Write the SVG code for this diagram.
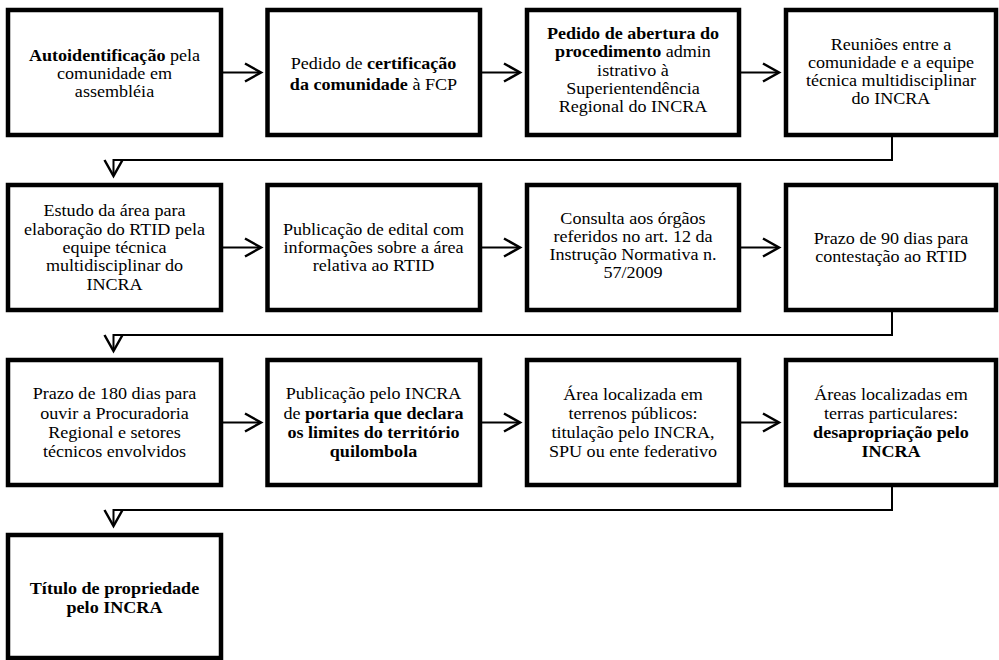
<svg xmlns="http://www.w3.org/2000/svg" width="999" height="660" viewBox="0 0 999 660">
<style>
.box{fill:#fff;stroke:#000;stroke-width:4.5}
.t{font-family:'Liberation Serif','Times New Roman',Times,serif;font-size:16.3px;text-anchor:middle;fill:#000}
.b{font-weight:bold}
.conn{fill:none;stroke:#000;stroke-width:2}
</style>
<defs>
<marker id="arr" viewBox="-20 -12 24 24" refX="0" refY="0" markerWidth="24" markerHeight="24" markerUnits="userSpaceOnUse" orient="auto">
<path d="M-16,-9 L0,0 L-16,9" fill="none" stroke="#000" stroke-width="2.5"/>
</marker>
</defs>
<rect width="999" height="660" fill="#fff"/>
<g id="connectors">
<line class="conn" x1="221" y1="72.5" x2="261" y2="72.5" marker-end="url(#arr)"/>
<line class="conn" x1="480" y1="72.5" x2="520" y2="72.5" marker-end="url(#arr)"/>
<line class="conn" x1="739" y1="72.5" x2="779" y2="72.5" marker-end="url(#arr)"/>
<polyline class="conn" points="892,135 892,160 113.5,160 113.5,176" marker-end="url(#arr)"/>
<line class="conn" x1="221" y1="247.5" x2="261" y2="247.5" marker-end="url(#arr)"/>
<line class="conn" x1="480" y1="247.5" x2="520" y2="247.5" marker-end="url(#arr)"/>
<line class="conn" x1="739" y1="247.5" x2="779" y2="247.5" marker-end="url(#arr)"/>
<polyline class="conn" points="892,310 892,335 113.5,335 113.5,351" marker-end="url(#arr)"/>
<line class="conn" x1="221" y1="422.5" x2="261" y2="422.5" marker-end="url(#arr)"/>
<line class="conn" x1="480" y1="422.5" x2="520" y2="422.5" marker-end="url(#arr)"/>
<line class="conn" x1="739" y1="422.5" x2="779" y2="422.5" marker-end="url(#arr)"/>
<polyline class="conn" points="892,485 892,510 113.5,510 113.5,526" marker-end="url(#arr)"/>
</g>
<g id="n1">
<rect class="box" x="8" y="10" width="213" height="125"/>
<g transform="translate(114.5 0) scale(1.11 1)">
<text class="t" x="0" y="61"><tspan class="b">Autoidentificação</tspan> pela</text>
<text class="t" x="0" y="79">comunidade em</text>
<text class="t" x="0" y="97">assembléia</text>
</g>
</g>
<g id="n2">
<rect class="box" x="267.5" y="10" width="212.5" height="125"/>
<g transform="translate(373.5 0) scale(1.11 1)">
<text class="t" x="0" y="69.5">Pedido de <tspan class="b">certificação</tspan></text>
<text class="t" x="0" y="90"><tspan class="b">da comunidade</tspan> à FCP</text>
</g>
</g>
<g id="n3">
<rect class="box" x="527" y="10" width="212" height="125"/>
<g transform="translate(633 0) scale(1.11 1)">
<text class="t b" x="0" y="39.5">Pedido de abertura do</text>
<text class="t" x="0" y="57.5"><tspan class="b">procedimento</tspan> admin</text>
<text class="t" x="0" y="76">istrativo à</text>
<text class="t" x="0" y="94">Superientendência</text>
<text class="t" x="0" y="112">Regional do INCRA</text>
</g>
</g>
<g id="n4">
<rect class="box" x="786" y="10" width="210" height="125"/>
<g transform="translate(891 0) scale(1.11 1)">
<text class="t" x="0" y="50">Reuniões entre a</text>
<text class="t" x="0" y="68">comunidade e a equipe</text>
<text class="t" x="0" y="86.5">técnica multidisciplinar</text>
<text class="t" x="0" y="104.5">do INCRA</text>
</g>
</g>
<g id="n5">
<rect class="box" x="8" y="185" width="213" height="125"/>
<g transform="translate(114.5 0) scale(1.11 1)">
<text class="t" x="0" y="216.5">Estudo da área para</text>
<text class="t" x="0" y="235">elaboração do RTID pela</text>
<text class="t" x="0" y="253.5">equipe técnica</text>
<text class="t" x="0" y="271.5">multidisciplinar do</text>
<text class="t" x="0" y="290">INCRA</text>
</g>
</g>
<g id="n6">
<rect class="box" x="267.5" y="185" width="212.5" height="125"/>
<g transform="translate(373.5 0) scale(1.11 1)">
<text class="t" x="0" y="235">Publicação de edital com</text>
<text class="t" x="0" y="253.5">informações sobre a área</text>
<text class="t" x="0" y="271.5">relativa ao RTID</text>
</g>
</g>
<g id="n7">
<rect class="box" x="527" y="185" width="212" height="125"/>
<g transform="translate(633 0) scale(1.11 1)">
<text class="t" x="0" y="224.5">Consulta aos órgãos</text>
<text class="t" x="0" y="242.5">referidos no art. 12 da</text>
<text class="t" x="0" y="260.5">Instrução Normativa n.</text>
<text class="t" x="0" y="278.5">57/2009</text>
</g>
</g>
<g id="n8">
<rect class="box" x="786" y="185" width="210" height="125"/>
<g transform="translate(891 0) scale(1.11 1)">
<text class="t" x="0" y="244">Prazo de 90 dias para</text>
<text class="t" x="0" y="262.5">contestação ao RTID</text>
</g>
</g>
<g id="n9">
<rect class="box" x="8" y="360" width="213" height="125"/>
<g transform="translate(114.5 0) scale(1.11 1)">
<text class="t" x="0" y="399.5">Prazo de 180 dias para</text>
<text class="t" x="0" y="419">ouvir a Procuradoria</text>
<text class="t" x="0" y="438.5">Regional e setores</text>
<text class="t" x="0" y="457.5">técnicos envolvidos</text>
</g>
</g>
<g id="n10">
<rect class="box" x="267.5" y="360" width="212.5" height="125"/>
<g transform="translate(373.5 0) scale(1.11 1)">
<text class="t" x="0" y="399.5">Publicação pelo INCRA</text>
<text class="t" x="0" y="419">de <tspan class="b">portaria que declara</tspan></text>
<text class="t b" x="0" y="438.5">os limites do território</text>
<text class="t b" x="0" y="457.5">quilombola</text>
</g>
</g>
<g id="n11">
<rect class="box" x="527" y="360" width="212" height="125"/>
<g transform="translate(633 0) scale(1.11 1)">
<text class="t" x="0" y="400">Área localizada em</text>
<text class="t" x="0" y="419">terrenos públicos:</text>
<text class="t" x="0" y="438.5">titulação pelo INCRA,</text>
<text class="t" x="0" y="457.5">SPU ou ente federativo</text>
</g>
</g>
<g id="n12">
<rect class="box" x="786" y="360" width="210" height="125"/>
<g transform="translate(891 0) scale(1.11 1)">
<text class="t" x="0" y="400">Áreas localizadas em</text>
<text class="t" x="0" y="419">terras particulares:</text>
<text class="t b" x="0" y="438.5">desapropriação pelo</text>
<text class="t b" x="0" y="457.5">INCRA</text>
</g>
</g>
<g id="n13">
<rect class="box" x="8" y="535" width="213" height="123"/>
<g transform="translate(114.5 0) scale(1.11 1)">
<text class="t b" x="0" y="594.5">Título de propriedade</text>
<text class="t b" x="0" y="613">pelo INCRA</text>
</g>
</g>
</svg>
